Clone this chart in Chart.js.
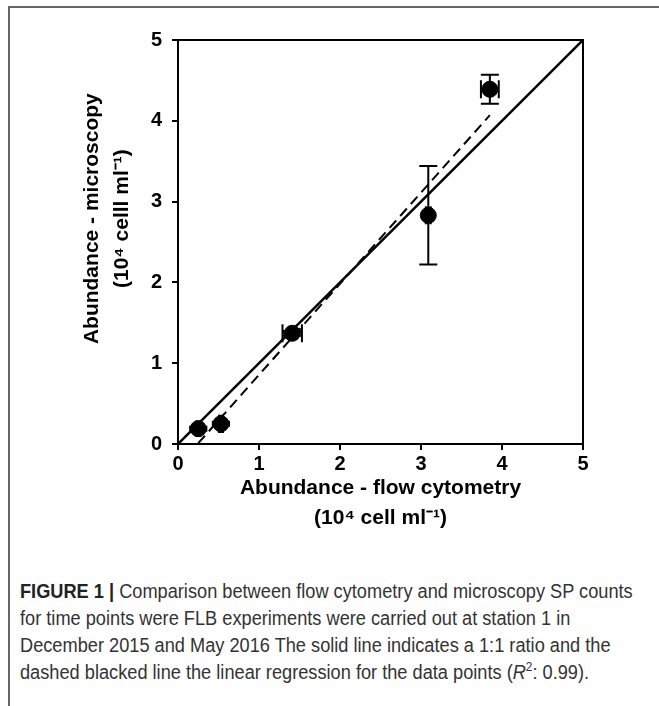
<!DOCTYPE html>
<html lang="en">
<head>
  <meta charset="UTF-8" />
  <title>Figure 1 - flow cytometry vs microscopy</title>
  <script src="https://cdn.jsdelivr.net/npm/chart.js"></script>
  <style>
    html, body {
      margin: 0;
      padding: 0;
      background: #fff;
    }
    .figure {
      position: relative;
      width: 659px;
      height: 706px;
      overflow: hidden;
    }
    .frame {
      position: absolute;
      left: 8px;
      top: 6px;
      right: -4px;
      bottom: -4px;
      border-top: 2px solid #666;
      border-left: 2px solid #666;
    }
    .chart-box {
      position: absolute;
      left: 0;
      top: 0;
      width: 659px;
      height: 560px;
    }
    .caption {
      position: absolute;
      left: 20px;
      top: 578px;
      width: 720px;
      font-family: "Liberation Sans", Arial, sans-serif;
      font-size: 20px;
      line-height: 27px;
      color: #333;
      white-space: nowrap;
      transform: scaleX(0.91);
      transform-origin: left top;
    }
    .caption b { color: #222; }
  </style>
</head>
<body>
  <div class="figure">
    <div class="frame"></div>
    <div class="chart-box"><canvas id="scatterChart"></canvas></div>
    <div class="caption">
      <b>FIGURE 1 |</b> Comparison between flow cytometry and microscopy SP counts<br>
      for time points were FLB experiments were carried out at station 1 in<br>
      December 2015 and May 2016 The solid line indicates a 1:1 ratio and the<br>
      dashed blacked line the linear regression for the data points (<i>R</i><sup style="font-size:13px;line-height:0">2</sup>: 0.99).
    </div>
  </div>

  <script>
    // Messwerte (10^4 Zellen/ml)
    const flowX = [0.25, 0.53, 1.41, 3.09, 3.85];
    const microY = [0.19, 0.25, 1.37, 2.83, 4.39];
    const flowErr = [0.1, 0.1, 0.12, 0.03, 0.11];
    const microErr = [0.09, 0.1, 0.03, 0.61, 0.18];

    // 1:1 Linie und Regressionsgerade (Endpunkte)
    const oneToOneX = [0, 5];
    const oneToOneY = [0, 5];
    const regX = [0.25, 3.85];
    const regY = [0.01, 4.07];

    const tickValues = [0, 1, 2, 3, 4, 5];

    const toPoints = (xs, ys) => xs.map((x, i) => ({ x: x, y: ys[i] }));

    const tickFont = { family: '"Liberation Sans", Arial, sans-serif', size: 20, weight: 'bold' };
    const titleFont = { family: '"Liberation Sans", Arial, sans-serif', size: 21, weight: 'bold', lineHeight: 1.43 };
    // Titel der y-Achse etwas nach oben schieben (wie im Original)
    const lift = '\u00A0'.repeat(8);

    // Fehlerbalken + Rahmen um die Plotfläche
    const errorBars = {
      id: 'errorBars',
      afterDatasetsDraw(chart) {
        const { ctx, scales: { x, y }, chartArea } = chart;
        ctx.save();
        ctx.strokeStyle = '#000';
        ctx.lineWidth = 2;
        flowX.forEach((fx, i) => {
          const cap = i < 2 ? 3 : 9;
          const px = x.getPixelForValue(fx);
          const py = y.getPixelForValue(microY[i]);
          const y1 = y.getPixelForValue(microY[i] - microErr[i]);
          const y2 = y.getPixelForValue(microY[i] + microErr[i]);
          const x1 = x.getPixelForValue(fx - flowErr[i]);
          const x2 = x.getPixelForValue(fx + flowErr[i]);
          ctx.beginPath();
          ctx.moveTo(px, y1); ctx.lineTo(px, y2);
          ctx.moveTo(px - cap, y1); ctx.lineTo(px + cap, y1);
          ctx.moveTo(px - cap, y2); ctx.lineTo(px + cap, y2);
          ctx.moveTo(x1, py); ctx.lineTo(x2, py);
          ctx.moveTo(x1, py - cap); ctx.lineTo(x1, py + cap);
          ctx.moveTo(x2, py - cap); ctx.lineTo(x2, py + cap);
          ctx.stroke();
        });
        ctx.strokeRect(chartArea.left, chartArea.top, chartArea.right - chartArea.left, chartArea.bottom - chartArea.top);
        ctx.restore();
      }
    };

    const ctx = document.getElementById('scatterChart').getContext('2d');
    new Chart(ctx, {
      type: 'scatter',
      data: {
        datasets: [
          {
            label: '1:1',
            type: 'line',
            data: toPoints(oneToOneX, oneToOneY),
            borderColor: '#000',
            borderWidth: 2.5,
            pointRadius: 0,
            fill: false
          },
          {
            label: 'Regression',
            type: 'line',
            data: toPoints(regX, regY),
            borderColor: '#000',
            borderWidth: 2,
            borderDash: [10, 6],
            pointRadius: 0,
            fill: false
          },
          {
            label: 'SP counts',
            data: toPoints(flowX, microY),
            backgroundColor: '#000',
            borderColor: '#000',
            pointRadius: 8
          }
        ]
      },
      options: {
        responsive: true,
        maintainAspectRatio: false,
        animation: false,
        layout: { padding: { top: 40, right: 76, left: 0, bottom: 0 } },
        plugins: {
          legend: { display: false },
          tooltip: { enabled: false }
        },
        scales: {
          x: {
            type: 'linear',
            min: 0,
            max: 5,
            afterBuildTicks: (scale) => { scale.ticks = tickValues.map(v => ({ value: v })); },
            afterFit: (scale) => { scale.height = 116; },
            ticks: { color: '#000', font: tickFont, padding: 2 },
            grid: { drawOnChartArea: false, tickLength: 6, color: '#000', lineWidth: 2 },
            border: { color: '#000', width: 2 },
            title: {
              display: true,
              text: ['Abundance - flow cytometry', '(10\u2074 cell ml\u207B\u00B9)'],
              color: '#000',
              font: titleFont,
              padding: { top: 0, bottom: 27 }
            }
          },
          y: {
            type: 'linear',
            min: 0,
            max: 5,
            afterBuildTicks: (scale) => { scale.ticks = tickValues.map(v => ({ value: v })); },
            afterFit: (scale) => { scale.width = 178; },
            ticks: { color: '#000', font: tickFont, padding: 10 },
            grid: { drawOnChartArea: false, tickLength: 6, color: '#000', lineWidth: 2 },
            border: { color: '#000', width: 2 },
            title: {
              display: true,
              text: [lift + 'Abundance - microscopy', lift + '(10\u2074 celll ml\u207B\u00B9)'],
              color: '#000',
              font: titleFont,
              padding: { top: 77, bottom: 0 }
            }
          }
        }
      },
      plugins: [errorBars]
    });
  </script>
</body>
</html>
